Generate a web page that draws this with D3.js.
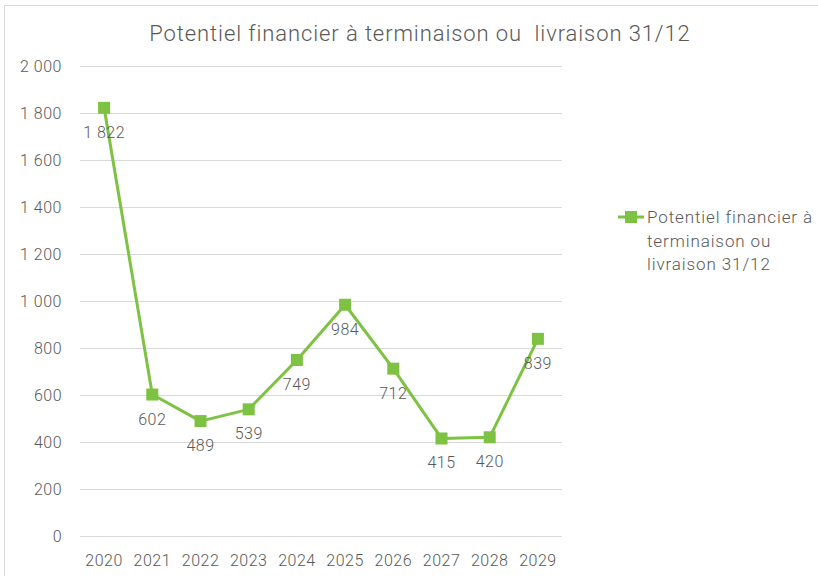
<!DOCTYPE html>
<html>
<head>
<meta charset="utf-8">
<script src="https://cdn.jsdelivr.net/npm/d3@7"></script>
<style>
  body { margin: 0; background: #fff; }
  svg text { font-family: "Roboto", "DejaVu Sans", sans-serif; fill: #595959; font-weight: 300; white-space: pre; }
</style>
</head>
<body>
<svg id="chart" width="818" height="576"></svg>
<script>
// data
var years = ["2020", "2021", "2022", "2023", "2024", "2025", "2026", "2027", "2028", "2029"];
var values = [1822, 602, 489, 539, 749, 984, 712, 415, 420, 839];
var yTicks = [0, 200, 400, 600, 800, 1000, 1200, 1400, 1600, 1800, 2000];
var titleText = "Potentiel financier à terminaison ou  livraison 31/12";
var legendLines = ["Potentiel financier à", "terminaison ou", "livraison 31/12"];

var green = "#7dc242";
var svg = d3.select("#chart");

// outer frame
svg.append("rect")
  .attr("x", 4.5).attr("y", 5.5)
  .attr("width", 830).attr("height", 600)
  .attr("fill", "none")
  .attr("stroke", "#d9d9d9");

var x = d3.scaleBand().domain(years).range([80, 562]);
var y = d3.scaleLinear().domain([0, 2000]).range([536, 66]);

// number format with space thousands
var fmt = function (d) {
  return d3.format(",")(d).replace(/,/g, " ");
};

// grid lines
svg.append("g").selectAll("line")
  .data(yTicks)
  .enter().append("line")
  .attr("x1", 80).attr("x2", 562)
  .attr("y1", function (d) { return y(d) + 0.5; })
  .attr("y2", function (d) { return y(d) + 0.5; })
  .attr("stroke", "#d9d9d9")
  .attr("stroke-width", 1);

// y axis labels
var yAxis = d3.axisLeft(y).tickValues(yTicks).tickSize(0).tickPadding(0).tickFormat(fmt);
var gy = svg.append("g").attr("transform", "translate(62,0)").call(yAxis);
gy.select(".domain").remove();
gy.selectAll("text").style("font-size", "16px").style("letter-spacing", "0.5px").attr("fill", "#595959");

// x axis labels
var xAxis = d3.axisBottom(x).tickSize(0).tickPadding(0);
var gx = svg.append("g").attr("transform", "translate(0,555)").call(xAxis);
gx.select(".domain").remove();
gx.selectAll("text").style("font-size", "16px").style("letter-spacing", "0.5px").attr("fill", "#595959");

// line
var line = d3.line()
  .x(function (d, i) { return x(years[i]) + x.bandwidth() / 2; })
  .y(function (d) { return y(d); });

svg.append("path")
  .datum(values)
  .attr("d", line)
  .attr("fill", "none")
  .attr("stroke", green)
  .attr("stroke-width", 3)
  .attr("stroke-linejoin", "round");

// markers
svg.append("g").selectAll("rect")
  .data(values)
  .enter().append("rect")
  .attr("x", function (d, i) { return x(years[i]) + x.bandwidth() / 2 - 6; })
  .attr("y", function (d) { return y(d) - 6; })
  .attr("width", 12).attr("height", 12)
  .attr("fill", green);

// data labels (below)
svg.append("g").selectAll("text")
  .data(values)
  .enter().append("text")
  .attr("x", function (d, i) { return x(years[i]) + x.bandwidth() / 2; })
  .attr("y", function (d) { return y(d) + 30; })
  .attr("text-anchor", "middle")
  .style("font-size", "16px")
  .style("letter-spacing", "0.5px")
  .text(fmt);

// title
svg.append("text")
  .attr("x", 420).attr("y", 41)
  .attr("text-anchor", "middle")
  .style("font-size", "22px")
  .style("letter-spacing", "0.9px")
  .text(titleText);

// legend
var lg = svg.append("g").attr("transform", "translate(618,217)");
lg.append("line")
  .attr("x1", 0).attr("x2", 26)
  .attr("y1", 0).attr("y2", 0)
  .attr("stroke", green).attr("stroke-width", 3);
lg.append("rect")
  .attr("x", 7).attr("y", -6)
  .attr("width", 12).attr("height", 12)
  .attr("fill", green);
lg.selectAll("text.leg")
  .data(legendLines)
  .enter().append("text")
  .attr("class", "leg")
  .attr("x", 29)
  .attr("y", function (d, i) { return 6 + i * 23.5; })
  .style("font-size", "17px")
  .style("letter-spacing", "0.9px")
  .text(function (d) { return d; });
</script>
</body>
</html>
